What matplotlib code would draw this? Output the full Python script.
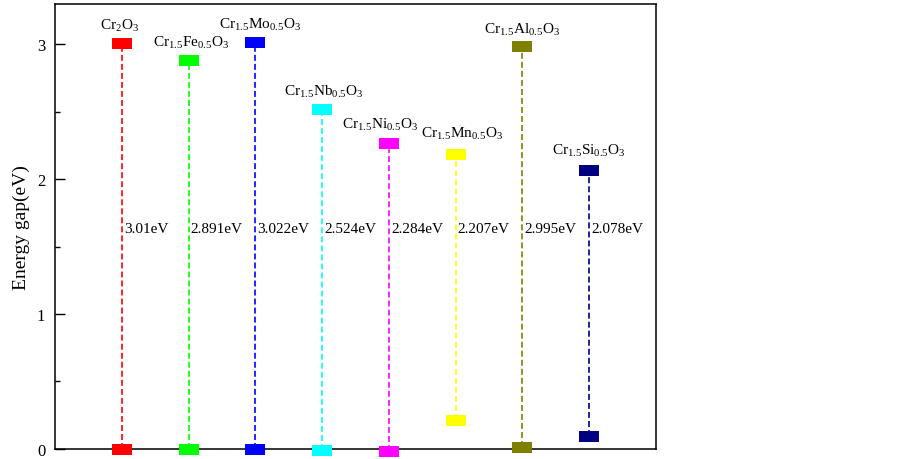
import matplotlib
matplotlib.use("Agg")
import matplotlib.pyplot as plt
from matplotlib.path import Path
from matplotlib.ticker import MultipleLocator

plt.rcParams["font.family"] = ["Liberation Serif", "DejaVu Serif"]
plt.rcParams["mathtext.fontset"] = "custom"
plt.rcParams["mathtext.rm"] = "Liberation Serif"
plt.rcParams["mathtext.it"] = "Liberation Serif:italic"
plt.rcParams["lines.scale_dashes"] = False

# data
oxides = [
    r"$\mathrm{Cr_2O_3}$",
    r"$\mathrm{Cr_{1.5}Fe_{0.5}O_3}$",
    r"$\mathrm{Cr_{1.5}Mo_{0.5}O_3}$",
    r"$\mathrm{Cr_{1.5}Nb_{0.5}O_3}$",
    r"$\mathrm{Cr_{1.5}Ni_{0.5}O_3}$",
    r"$\mathrm{Cr_{1.5}Mn_{0.5}O_3}$",
    r"$\mathrm{Cr_{1.5}Al_{0.5}O_3}$",
    r"$\mathrm{Cr_{1.5}Si_{0.5}O_3}$",
]
band_bottom = [0.0, 0.0, 0.0, -0.01, -0.02, 0.21, 0.01, 0.09]
band_top = [3.01, 2.885, 3.02, 2.52, 2.27, 2.19, 2.985, 2.065]
gap_labels = ["3.01eV", "2.891eV", "3.022eV", "2.524eV", "2.284eV", "2.207eV", "2.995eV", "2.078eV"]
colors = ["#FF0000", "#00FF00", "#0000FF", "#00FFFF", "#FF00FF", "#FFFF00", "#808000", "#000080"]

# small nudges (points) so the formula labels sit as in the original
name_dx = [-1.5, 1.5, 3.5, 1, -6.5, 4.5, -0.5, 0]
name_dy = [7, 7, 7, 7, 8, 9, 7, 9]

xs = list(range(1, len(oxides) + 1))

# flat rectangular marker, width sets the size
rect = Path([(-1, -0.55), (1, -0.55), (1, 0.55), (-1, 0.55), (-1, -0.55)],
            [Path.MOVETO, Path.LINETO, Path.LINETO, Path.LINETO, Path.CLOSEPOLY])

fig = plt.figure(figsize=(9.03, 4.60), dpi=100)
ax = fig.add_axes([55 / 903, 10 / 460, 601 / 903, 445 / 460])

for i, x in enumerate(xs):
    c = colors[i]
    ax.plot([x, x], [band_bottom[i], band_top[i]], color=c, lw=1.2,
            linestyle=(0, (4.3, 2.2)), zorder=2)
    ax.plot([x, x], [band_bottom[i], band_top[i]], linestyle="none", marker=rect,
            markersize=14.4, markerfacecolor=c, markeredgewidth=0, clip_on=False, zorder=3)
    ax.annotate(oxides[i], (x, band_top[i]), xytext=(name_dx[i], name_dy[i]),
                textcoords="offset points", ha="center", va="bottom", fontsize=11)
    ax.text(x + 0.03, 1.63, gap_labels[i], ha="left", va="center", fontsize=11)

ax.set_xlim(0, 9)
ax.set_ylim(-0.003, 3.3)
ax.set_xticks([])
ax.yaxis.set_major_locator(MultipleLocator(1))
ax.yaxis.set_minor_locator(MultipleLocator(0.5))
ax.tick_params(axis="y", which="major", direction="in", length=7, width=1, labelsize=12, pad=7)
ax.tick_params(axis="y", which="minor", direction="in", length=3.6, width=1)
for s in ax.spines.values():
    s.set_linewidth(1.1)
ax.set_ylabel("Energy gap(eV)", fontsize=14, labelpad=5)

fig.savefig("out.png", dpi=100)
